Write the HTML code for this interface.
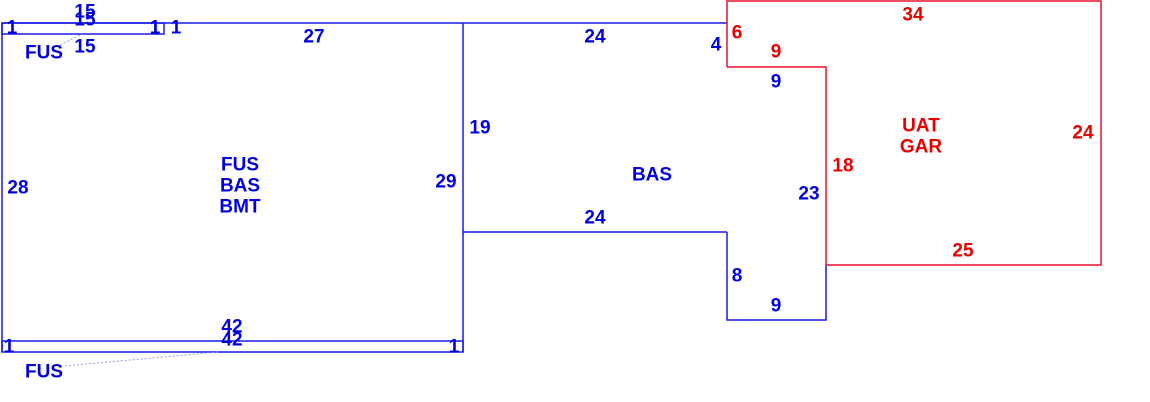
<!DOCTYPE html>
<html><head><style>
html,body{margin:0;padding:0;background:#fff;width:1150px;height:402px;overflow:hidden}
svg text{font-family:"Liberation Sans",Arial,sans-serif;font-weight:bold;font-size:19px;text-anchor:middle;dominant-baseline:central}
.b{fill:#0000e0}.r{fill:#e80000}
</style></head><body>
<svg width="1150" height="402" xmlns="http://www.w3.org/2000/svg">
<g fill="none" stroke="#1a1ae6" stroke-width="1.5">
<line x1="2" y1="23" x2="727" y2="23"/>
<line x1="2" y1="23" x2="2" y2="352"/>
<line x1="463" y1="23" x2="463" y2="352"/>
<rect x="2" y="23" width="162" height="11"/>
<line x1="155" y1="23" x2="155" y2="34"/>
<rect x="2" y="341" width="461" height="11"/>
<line x1="463" y1="232" x2="727" y2="232"/>
<polyline points="727,232 727,320 826,320 826,265"/>
</g>
<g fill="none" stroke="#9999ee" stroke-width="1" stroke-dasharray="2,2">
<line x1="60" y1="45" x2="82" y2="34"/>
<line x1="65" y1="366" x2="218" y2="352"/>
</g>
<g fill="none" stroke="#e8102a" stroke-width="1.5">
<polyline points="727,67 727,1 1101,1 1101,265 826,265 826,67 727,67"/>
</g>
<g class="b">
<text x="85" y="12">15</text><text x="85" y="20">15</text>
<text x="12" y="28">1</text><text x="155" y="28">1</text><text x="176" y="28">1</text>
<text x="44" y="53">FUS</text><text x="85" y="47">15</text>
<text x="314" y="37">27</text><text x="595" y="37">24</text><text x="716" y="45">4</text>
<text x="776" y="82">9</text><text x="480" y="128">19</text>
<text x="240" y="165">FUS</text><text x="240" y="186">BAS</text><text x="240" y="207">BMT</text>
<text x="18" y="188">28</text><text x="446" y="182">29</text><text x="652" y="175">BAS</text>
<text x="809" y="194">23</text><text x="595" y="218">24</text>
<text x="737" y="276">8</text><text x="776" y="306">9</text>
<text x="232" y="327">42</text><text x="232" y="340">42</text>
<text x="9" y="347">1</text><text x="454" y="347">1</text>
<text x="44" y="372">FUS</text>
</g>
<g class="r">
<text x="737" y="33">6</text><text x="913" y="15">34</text><text x="776" y="52">9</text>
<text x="921" y="126">UAT</text><text x="921" y="147">GAR</text>
<text x="1083" y="133">24</text><text x="843" y="166">18</text><text x="963" y="251">25</text>
</g>
</svg>
</body></html>
